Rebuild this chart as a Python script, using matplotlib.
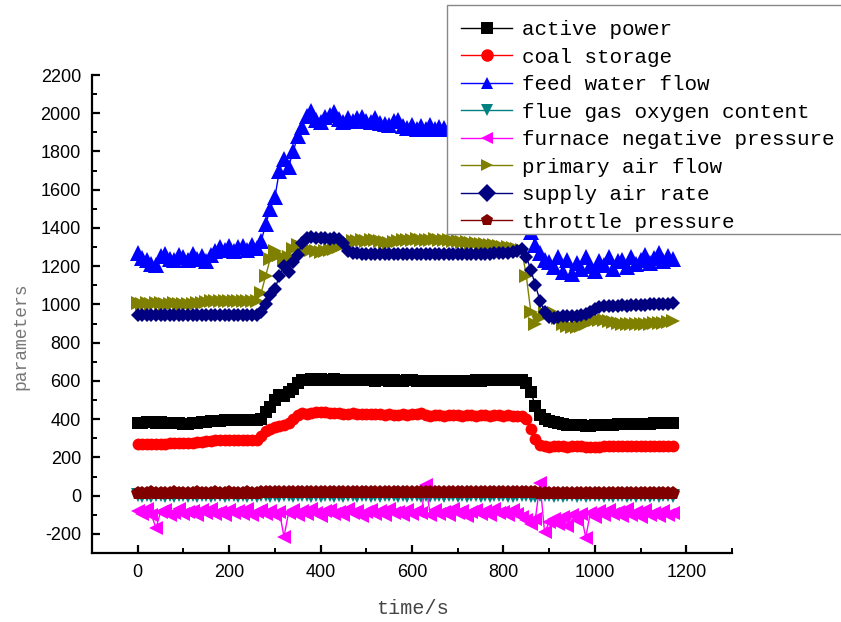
import numpy as np
import matplotlib.pyplot as plt
from matplotlib.ticker import MultipleLocator
from matplotlib.patches import Rectangle

plt.rcParams['font.family'] = 'Liberation Sans'
plt.rcParams['axes.unicode_minus'] = False

# time axis, one sample every 10 s
time_s = np.arange(0, 1171, 10)

active_power = [
    380, 382, 384, 383, 381, 383, 382, 380, 379, 378,
    377, 377, 378, 380, 384, 387, 389, 390, 392, 393,
    395, 396, 395, 397, 396, 395, 395, 400, 440, 465,
    500, 525, 520, 540, 560, 590, 603, 606, 608, 607,
    608, 606, 607, 609, 607, 606, 605, 606, 604, 605,
    603, 604, 602, 603, 604, 602, 603, 601, 602, 603,
    604, 602, 601, 600, 601, 600, 602, 600, 599, 600,
    601, 600, 602, 601, 603, 602, 604, 603, 605, 604,
    605, 604, 606, 605, 604, 590, 540, 470, 420, 400,
    390, 383, 378, 374, 372, 370, 368, 367, 366, 366,
    367, 368, 370, 371, 372, 373, 374, 375, 375, 376,
    376, 377, 377, 378, 378, 379, 380, 380]

coal_storage = [
    270, 270, 271, 272, 272, 272, 272, 273, 273, 274,
    274, 275, 276, 278, 282, 285, 288, 289, 289, 290,
    290, 290, 291, 291, 292, 292, 293, 310, 340, 350,
    360, 365, 372, 380, 400, 420, 430, 428, 432, 440,
    438, 435, 432, 430, 431, 429, 428, 430, 427, 428,
    426, 427, 425, 426, 424, 425, 423, 424, 425, 422,
    425, 428, 430, 422, 418, 420, 421, 419, 420, 421,
    420, 419, 421, 420, 419, 420, 421, 419, 420, 420,
    419, 420, 418, 419, 418, 400, 350, 295, 265, 258,
    257, 258, 259, 258, 257, 258, 259, 258, 257, 255,
    256, 257, 258, 259, 258, 259, 258, 259, 260, 259,
    260, 259, 260, 260, 259, 260, 260, 260]

feed_water_flow = [
    1270, 1245, 1235, 1210, 1205, 1255, 1265, 1240, 1230, 1260,
    1250, 1235, 1265, 1240, 1255, 1225, 1260, 1280, 1300, 1285,
    1305, 1280, 1300, 1305, 1285, 1310, 1295, 1330, 1420, 1500,
    1560, 1700, 1760, 1720, 1800, 1880, 1930, 1985, 2010, 1965,
    1955, 1980, 1990, 2005, 1970, 1955, 1975, 1960, 1975, 1980,
    1960, 1955, 1975, 1950, 1945, 1940, 1960, 1965, 1935, 1925,
    1940, 1915, 1935, 1920, 1940, 1915, 1930, 1925, 1920, 1930,
    1925, 1920, 1930, 1925, 1920, 1915, 1925, 1920, 1915, 1920,
    1915, 1920, 1910, 1915, 1900, 1750, 1380, 1310, 1270, 1230,
    1220, 1195, 1250, 1170, 1235, 1160, 1215, 1185, 1250, 1200,
    1175, 1225, 1205, 1250, 1185, 1225, 1235, 1195, 1250, 1210,
    1235, 1260, 1215, 1245, 1270, 1225, 1255, 1240]

flue_gas_oxygen = [
    2, 0, 3, -2, 1, 4, -1, 2, 0, 3,
    1, -2, 2, 0, 3, 1, -1, 2, 4, 0,
    2, 1, -2, 3, 0, 2, -1, 1, 3, 0,
    2, -1, 1, 3, 0, 2, 4, 1, -2, 2,
    0, 3, 1, -1, 2, 0, 3, 1, -2, 2,
    1, 0, 3, -1, 2, 1, 4, 0, 2, -1,
    3, 1, 0, 2, -2, 1, 3, 0, 2, 1,
    -1, 2, 0, 3, 1, -2, 2, 0, 3, 1,
    2, 0, -1, 3, 1, 2, -2, 0, 1, 3,
    2, -1, 1, 0, 3, 2, -2, 1, 0, 2,
    3, 1, -1, 2, 0, 3, 1, -2, 2, 0,
    1, 3, 0, 2, -1, 1, 2, 0]

furnace_negative_pressure = [
    -80, -95, -70, -100, -170, -85, -75, -100, -90, -70,
    -95, -85, -80, -100, -75, -90, -70, -95, -85, -100,
    -75, -90, -80, -95, -70, -100, -85, -75, -95, -80,
    -100, -85, -215, -90, -75, -100, -80, -95, -70, -90,
    -105, -80, -75, -95, -85, -100, -70, -90, -80, -105,
    -85, -75, -95, -80, -100, -70, -90, -85, -100, -75,
    -95, -80, -90, 55, -100, -75, -95, -85, -100, -70,
    -90, -80, -105, -85, -75, -95, -80, -100, -70, -90,
    -85, -100, -75, -95, -110, -130, -150, -120, 65, -190,
    -140, -120, -150, -110, -160, -100, -130, -95, -220, -90,
    -110, -80, -100, -75, -95, -85, -105, -70, -100, -85,
    -110, -75, -100, -90, -105, -80, -100, -90]

primary_air_flow = [
    1005, 1003, 1006, 1004, 1005, 1007, 1004, 1003, 1005, 1004,
    1003, 1002, 1004, 1005, 1006, 1012, 1018, 1020, 1019, 1018,
    1020, 1019, 1018, 1020, 1019, 1018, 1020, 1060, 1150, 1240,
    1280, 1260, 1230, 1250, 1290, 1310, 1300, 1290, 1285, 1280,
    1275, 1280, 1285, 1290, 1300, 1310, 1320, 1330, 1332, 1335,
    1333, 1336, 1335, 1330, 1328, 1320, 1325, 1333, 1336, 1338,
    1337, 1340, 1338, 1335, 1337, 1340, 1338, 1336, 1335, 1333,
    1330, 1328, 1325, 1322, 1320, 1318, 1315, 1312, 1310, 1305,
    1300, 1298, 1295, 1292, 1285, 1150, 960, 900, 930, 955,
    960, 955, 930, 900, 885, 880, 880, 885, 900, 915,
    920, 920, 918, 915, 910, 905, 900, 900, 898, 897,
    898, 900, 900, 902, 905, 905, 908, 912]

supply_air_rate = [
    945, 944, 946, 945, 943, 945, 946, 944, 945, 943,
    944, 945, 943, 944, 946, 945, 944, 943, 945, 944,
    945, 943, 944, 946, 945, 944, 945, 960, 1000, 1050,
    1080, 1150, 1200, 1170, 1220, 1260, 1320, 1350, 1355, 1350,
    1345, 1345, 1340, 1345, 1340, 1320, 1280, 1270, 1268, 1265,
    1266, 1264, 1265, 1263, 1266, 1264, 1265, 1263, 1264, 1266,
    1265, 1263, 1264, 1266, 1265, 1264, 1263, 1265, 1266, 1264,
    1265, 1263, 1264, 1265, 1266, 1264, 1263, 1265, 1268, 1270,
    1270, 1268, 1272, 1280, 1290, 1250, 1180, 1100, 1020, 960,
    935, 930, 935, 940, 938, 942, 940, 945, 950, 960,
    975, 985, 990, 992, 990, 993, 995, 994, 996, 998,
    997, 999, 1000, 1001, 1000, 1002, 1003, 1005]

throttle_pressure = [
    16, 15, 16, 17, 16, 15, 16, 16, 17, 16,
    15, 16, 16, 17, 16, 15, 16, 17, 16, 16,
    17, 16, 15, 16, 17, 16, 16, 17, 18, 18,
    19, 19, 20, 20, 19, 20, 20, 19, 20, 20,
    19, 20, 20, 19, 20, 19, 20, 20, 19, 20,
    20, 19, 20, 20, 19, 20, 19, 20, 20, 19,
    20, 19, 20, 20, 19, 20, 20, 19, 20, 19,
    20, 20, 19, 20, 19, 20, 20, 19, 20, 20,
    19, 20, 20, 19, 19, 18, 17, 17, 16, 16,
    16, 15, 16, 16, 15, 16, 16, 15, 16, 16,
    15, 16, 16, 15, 16, 16, 15, 16, 16, 15,
    16, 16, 15, 16, 16, 15, 16, 16]

series = [
    ("active power", active_power, "#000000", "s", 8),
    ("coal storage", coal_storage, "#ff0000", "o", 8.5),
    ("feed water flow", feed_water_flow, "#0000ff", "^", 11),
    ("flue gas oxygen content", flue_gas_oxygen, "#008080", "v", 10),
    ("furnace negative pressure", furnace_negative_pressure, "#ff00ff", "<", 10.5),
    ("primary air flow", primary_air_flow, "#808000", ">", 10.5),
    ("supply air rate", supply_air_rate, "#000080", "D", 7.5),
    ("throttle pressure", throttle_pressure, "#800000", "p", 10.5),
]

W, H = 841, 622
fig = plt.figure(figsize=(W / 100, H / 100), dpi=100)
ax = fig.add_axes([92 / W, 1 - 553 / H, 640 / W, 478 / H])

for name, vals, col, mk, ms in series:
    ax.plot(time_s, vals, color=col, lw=1, marker=mk, markersize=ms,
            markeredgewidth=0, label=name)

ax.set_xlim(-100, 1300)
ax.set_ylim(-300, 2200)
ax.xaxis.set_major_locator(MultipleLocator(200))
ax.xaxis.set_minor_locator(MultipleLocator(100))
ax.yaxis.set_major_locator(MultipleLocator(200))
ax.yaxis.set_minor_locator(MultipleLocator(100))

for s in ["top", "right"]:
    ax.spines[s].set_visible(False)
for s in ["left", "bottom"]:
    ax.spines[s].set_linewidth(1.6)

ax.tick_params(which="major", direction="in", length=6, width=1.6,
               labelsize=13, pad=8)
ax.tick_params(which="minor", direction="in", length=3.5, width=1.4)

ax.set_xlabel("time/s", family="Liberation Mono", fontsize=14.5,
              color="#444444", labelpad=13)
ax.set_ylabel("parameters", family="Liberation Mono", fontsize=13,
              color="#777777", labelpad=10)
ax.yaxis.set_label_coords(-0.098, 0.454)

# legend box drawn by hand so the padding can match (more room on top)
frame = Rectangle((447 / W, 1 - 234 / H), 400 / W, 229 / H, transform=fig.transFigure,
                  facecolor="white", edgecolor="#888888", lw=1.0, zorder=2)
fig.patches.append(frame)

handles, labels = ax.get_legend_handles_labels()
leg = fig.legend(handles, labels, loc="upper left",
                 bbox_to_anchor=(461 / W, 1 - 20 / H),
                 prop={"family": "Liberation Mono", "size": 15},
                 frameon=False, handlelength=2.45, handletextpad=0.5,
                 labelspacing=0.41, borderpad=0, borderaxespad=0)
leg.set_zorder(3)
for h in leg.legend_handles:
    h.set_markersize(9)

fig.savefig("out.png", dpi=100)
